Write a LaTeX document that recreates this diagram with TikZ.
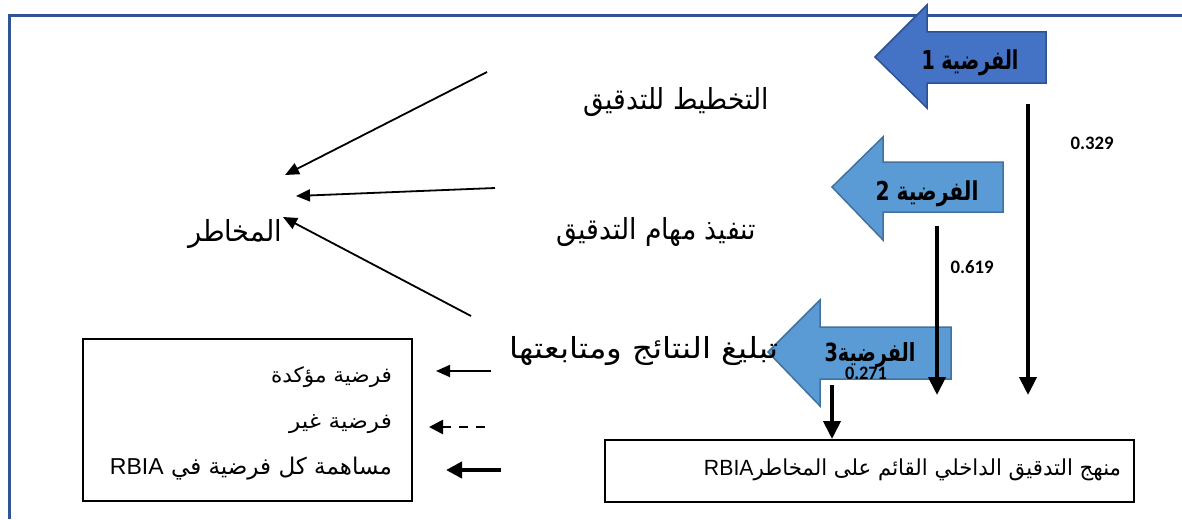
\documentclass[tikz,border=0pt]{standalone}
\usepackage{fontspec}
\usepackage{graphicx}
\usetikzlibrary{arrows.meta}
\TeXXeTstate=1
\newfontfamily\arfont[Script=Arabic]{DejaVu Sans}
\newfontfamily\latfont{Liberation Sans}
\newfontfamily\numfont{Carlito}
\newcommand\fitt[3]{\resizebox{#1pt}{\height}{\fontsize{#2}{#2}\selectfont #3}}
\definecolor{frameblue}{HTML}{2F5597}
\definecolor{dkfill}{HTML}{4472C4}
\definecolor{dkedge}{HTML}{2F528F}
\definecolor{ltfill}{HTML}{5B9BD5}
\definecolor{ltedge}{HTML}{41719C}
\tikzset{
  txt/.style={inner sep=0pt, outer sep=0pt},
  thinarrow/.style={line width=1.8pt, -{Triangle[length=14pt,width=12pt]}},
  thickarrow/.style={line width=4pt, -{Triangle[length=18pt,width=17pt]}},
  legthick/.style={line width=4.5pt, -{Triangle[length=16pt,width=16pt]}},
  legdash/.style={line width=2.6pt, dash pattern=on 9pt off 8pt, -{Triangle[length=14pt,width=14pt]}},
  boxed/.style={draw, line width=1.5pt, fill=white},
  darkblock/.style={fill=dkfill, draw=dkedge, line width=1.5pt, line join=miter},
  lightblock/.style={fill=ltfill, draw=ltedge, line width=1.5pt, line join=miter},
}
\begin{document}
\begin{tikzpicture}[x=1pt,y=-1pt]
\useasboundingbox (0,0) rectangle (1182,519);
% frame
\draw[frameblue, line width=3pt] (9,519) -- (9,16) -- (1182,16);

% block arrows
\draw[darkblock] (875,57) -- (927,5) -- (927,32) -- (1046,32) -- (1046,83) -- (927,83) -- (927,108) -- cycle;
\draw[lightblock] (832,187) -- (883,137) -- (883,162) -- (1003,162) -- (1003,212) -- (883,212) -- (883,240) -- cycle;
\draw[lightblock] (768,352) -- (820,300) -- (820,327) -- (951,327) -- (951,379) -- (820,379) -- (820,406) -- cycle;

% main texts
\node[txt] (plan) at (676,102) {\fitt{185}{29}{\arfont\beginR التخطيط للتدقيق\endR}};
\node[txt] (exec) at (656,232) {\fitt{200}{29}{\arfont\beginR تنفيذ مهام التدقيق\endR}};
\node[txt] (comm) at (644,351) {\fitt{268}{29}{\arfont\beginR تبليغ النتائج ومتابعتها\endR}};
\node[txt] (risk) at (235,234) {\fitt{94}{29}{\arfont\beginR المخاطر\endR}};

% arrows to risk
\coordinate (a1s) at (487,72);  \coordinate (a1e) at (285,175);
\coordinate (a2s) at (495,188); \coordinate (a2e) at (296,196);
\coordinate (a3s) at (471,316); \coordinate (a3e) at (283,217);
\draw[thinarrow] (a1s) -- (a1e);
\draw[thinarrow] (a2s) -- (a2e);
\draw[thinarrow] (a3s) -- (a3e);

% bottom box
\node[boxed, minimum width=529pt, minimum height=62pt, anchor=north west] (rbia) at (604,439) {};
\node[txt, anchor=east] (rbiatxt) at (1121,470) {\fitt{417}{22}{\arfont\beginR منهج التدقيق الداخلي القائم على المخاطر\beginL{\latfont RBIA}\endL\endR}};

% legend box
\node[boxed, minimum width=329pt, minimum height=162pt, anchor=north west] (legend) at (82,338) {};
\node[txt, anchor=east] (leg1) at (392,377) {\fitt{121}{21}{\arfont\beginR فرضية مؤكدة\endR}};
\node[txt, anchor=east] (leg2) at (392,424) {\fitt{103}{21}{\arfont\beginR فرضية غير\endR}};
\node[txt, anchor=east] (leg3) at (392,469) {\fitt{282}{23}{\arfont\beginR مساهمة كل فرضية في \beginL{\latfont RBIA}\endL\endR}};

% legend arrows
\coordinate (l1s) at (491,371); \coordinate (l1e) at (436,371);
\coordinate (l2s) at (485,427); \coordinate (l2e) at (429,427);
\coordinate (l3s) at (501,470); \coordinate (l3e) at (446,470);
\draw[thinarrow] (l1s) -- (l1e);
\draw[legdash] (l2s) -- (l2e);
\draw[legthick] (l3s) -- (l3e);

% block arrow labels
\node[txt] (h1) at (970,63) {\fitt{97}{26}{\arfont\bfseries\beginR الفرضية 1\endR}};
\node[txt] (h2) at (927,194) {\fitt{103}{26}{\arfont\bfseries\beginR الفرضية 2\endR}};
\node[txt] (h3) at (870,355) {\fitt{91}{25}{\arfont\bfseries\beginR الفرضية3\endR}};

% vertical arrows
\coordinate (v1s) at (1028,104); \coordinate (v1e) at (1028,395);
\coordinate (v2s) at (937,226);  \coordinate (v2e) at (937,395);
\coordinate (v3s) at (832,385);
\draw[thickarrow] (v1s) -- (v1e);
\draw[thickarrow] (v2s) -- (v2e);
\draw[thickarrow] (v3s) -- (rbia.north -| v3s);

% coefficients
\node[txt] (c1) at (1092,143) {\fitt{43}{19}{\numfont\bfseries 0.329}};
\node[txt] (c2) at (972,267) {\fitt{43}{19}{\numfont\bfseries 0.619}};
\node[txt] (c3) at (866,373) {\fitt{42}{19}{\numfont\bfseries 0.271}};
\end{tikzpicture}
\end{document}
